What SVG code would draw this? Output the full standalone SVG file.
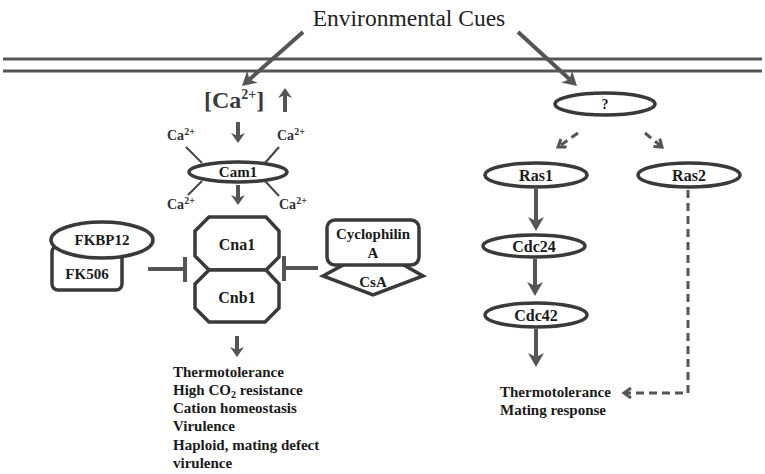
<svg xmlns="http://www.w3.org/2000/svg" width="765" height="474" viewBox="0 0 765 474">
<style>
  .node{fill:#fff;stroke:#3a3a3a;stroke-width:3.5;}
  .lbl{font-family:"Liberation Serif",serif;font-weight:bold;font-size:14px;fill:#1a1a1a;text-anchor:middle;}
  .l15{font-size:15px;}
  .l16{font-size:16px;}
  .txt{font-family:"Liberation Serif",serif;font-weight:bold;font-size:15px;fill:#1a1a1a;}
  .ca{font-family:"Liberation Serif",serif;font-weight:bold;font-size:14px;fill:#333;}
  .arr{stroke:#555;stroke-width:4;fill:none;}
  .arrs{stroke:#555;stroke-width:4;fill:none;}
  .dash{stroke:#555;stroke-width:3;fill:none;stroke-dasharray:8 5;}
  .thin{stroke:#444;stroke-width:2;fill:none;}
  .inh{stroke:#555;stroke-width:4;fill:none;}
  .mem{stroke:#555;stroke-width:3;}
</style>
<defs>
  <marker id="big" markerUnits="userSpaceOnUse" markerWidth="16" markerHeight="18" refX="4" refY="8" orient="auto">
    <path d="M0,0 L14,8 L0,16 L4,8 z" fill="#555"/>
  </marker>
  <marker id="sm" markerUnits="userSpaceOnUse" markerWidth="12" markerHeight="16" refX="3" refY="7" orient="auto">
    <path d="M0,0 L10,7 L0,14 L3,7 z" fill="#555"/>
  </marker>
  <marker id="open" markerUnits="userSpaceOnUse" markerWidth="12" markerHeight="14" refX="8" refY="6" orient="auto">
    <path d="M1,1 L8,6 L1,11" fill="none" stroke="#555" stroke-width="3" stroke-dasharray="none"/>
  </marker>
</defs>

<g id="membrane">
  <line class="mem" x1="3" y1="59" x2="762" y2="59"/>
  <line class="mem" x1="3" y1="71" x2="762" y2="71"/>
</g>

<g id="title">
  <text x="409" y="26" font-family="Liberation Serif,serif" font-size="23.5" fill="#222" text-anchor="middle">Environmental Cues</text>
</g>

<g id="ca-level">
  <text x="204" y="108" font-family="Liberation Serif,serif" font-weight="bold" font-size="24" fill="#3a3a3a">[Ca<tspan dy="-9" font-size="14">2+</tspan><tspan dy="9">]</tspan></text>
</g>

<g id="ca-ions">
  <text class="ca" x="167" y="140">Ca<tspan dy="-5" style="font-size:10px">2+</tspan></text>
  <text class="ca" x="277" y="140">Ca<tspan dy="-5" style="font-size:10px">2+</tspan></text>
  <text class="ca" x="167" y="209">Ca<tspan dy="-5" style="font-size:10px">2+</tspan></text>
  <text class="ca" x="279" y="209">Ca<tspan dy="-5" style="font-size:10px">2+</tspan></text>
  <line class="thin" x1="186" y1="147" x2="202" y2="163"/>
  <line class="thin" x1="279" y1="147" x2="265" y2="163"/>
  <line class="thin" x1="202" y1="181" x2="188" y2="195"/>
  <line class="thin" x1="265" y1="181" x2="279" y2="196"/>
</g>

<g id="cam1">
  <ellipse class="node" cx="238" cy="172" rx="49" ry="10"/>
  <text class="lbl l15" x="238" y="177">Cam1</text>
</g>

<g id="cna1">
  <polygon class="node" points="209,217 266,217 279,231 279,257 266,270 209,270 195,256 195,231"/>
  <text class="lbl l16" x="237" y="250">Cna1</text>
</g>
<g id="cnb1">
  <polygon class="node" points="209,270 266,270 279,284 279,308 265,322 209,322 195,308 195,284"/>
  <text class="lbl l16" x="237" y="303">Cnb1</text>
</g>

<g id="fk506">
  <rect class="node" x="52" y="246" width="70" height="44" rx="6"/>
  <text class="lbl l15" x="87" y="279">FK506</text>
</g>
<g id="fkbp12">
  <ellipse class="node" cx="102" cy="240" rx="51" ry="18"/>
  <text class="lbl l15" x="102" y="245">FKBP12</text>
</g>

<g id="csa">
  <polygon class="node" points="345,264 402,264 423,276 373,295 323,276"/>
  <text class="lbl l15" x="373" y="287">CsA</text>
</g>
<g id="cyclophilin">
  <rect class="node" x="327" y="220" width="92" height="45" rx="8"/>
  <text class="lbl l15" x="373" y="239">Cyclophilin</text>
  <text class="lbl l15" x="373" y="258">A</text>
</g>

<g id="calcineurin-outputs">
  <text class="txt" x="173" y="377">Thermotolerance</text>
  <text class="txt" x="173" y="395">High CO<tspan dy="3" style="font-size:10px">2</tspan><tspan dy="-3"> resistance</tspan></text>
  <text class="txt" x="173" y="413">Cation homeostasis</text>
  <text class="txt" x="173" y="431">Virulence</text>
  <text class="txt" x="173" y="450">Haploid, mating defect</text>
  <text class="txt" x="173" y="468">virulence</text>
</g>

<g id="unknown">
  <ellipse class="node" cx="605" cy="104" rx="50" ry="11"/>
  <text class="lbl" x="605" y="109">?</text>
</g>
<g id="ras1">
  <ellipse class="node" cx="536" cy="175" rx="51" ry="12"/>
  <text class="lbl l16" x="536" y="181">Ras1</text>
</g>
<g id="ras2">
  <ellipse class="node" cx="689" cy="175" rx="51" ry="12"/>
  <text class="lbl l16" x="689" y="181">Ras2</text>
</g>
<g id="cdc24">
  <ellipse class="node" cx="534" cy="246" rx="51" ry="11"/>
  <text class="lbl l16" x="534" y="252">Cdc24</text>
</g>
<g id="cdc42">
  <ellipse class="node" cx="536" cy="315" rx="51" ry="12"/>
  <text class="lbl l16" x="536" y="321">Cdc42</text>
</g>

<g id="ras-outputs">
  <text class="txt" x="500" y="397">Thermotolerance</text>
  <text class="txt" x="500" y="415">Mating response</text>
</g>

<g id="connectors">
  <line class="arr" x1="303" y1="32" x2="249.5" y2="79.4" marker-end="url(#big)"/>
  <line class="arr" x1="518" y1="32" x2="569.6" y2="79.3" marker-end="url(#big)"/>
  <line class="arrs" x1="285" y1="112" x2="285" y2="95" marker-end="url(#sm)"/>
  <line class="arrs" x1="238" y1="122" x2="238" y2="136" marker-end="url(#sm)"/>
  <line class="arrs" x1="238" y1="185" x2="238" y2="198" marker-end="url(#sm)"/>
  <line class="arrs" x1="237" y1="336" x2="237" y2="350" marker-end="url(#sm)"/>
  <line class="arr" x1="536" y1="189" x2="536" y2="221" marker-end="url(#big)"/>
  <line class="arr" x1="535" y1="259" x2="535" y2="286" marker-end="url(#big)"/>
  <line class="arr" x1="536" y1="329" x2="536" y2="357" marker-end="url(#big)"/>
  <path class="inh" d="M148,269 H185 M185,257 V282"/>
  <path class="inh" d="M318,268 H284 M284,256 V281"/>
  <line class="dash" x1="578" y1="133" x2="558" y2="147" marker-end="url(#open)"/>
  <line class="dash" x1="645" y1="133" x2="662" y2="147" marker-end="url(#open)"/>
  <path class="dash" d="M688,190 V393 H624" marker-end="url(#open)"/>
</g>
</svg>
